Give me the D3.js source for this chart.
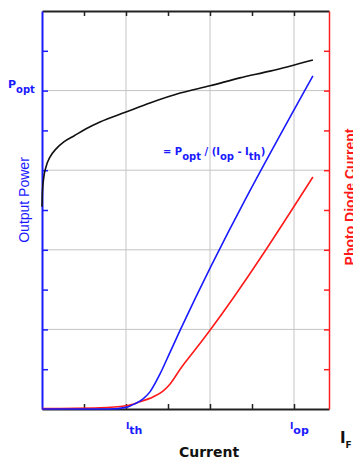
<!DOCTYPE html>
<html>
<head>
<meta charset="utf-8">
<script src="https://cdn.jsdelivr.net/npm/d3@7"></script>
<style>
  body { margin: 0; background: #fff; }
  svg text { font-family: "DejaVu Sans", Verdana, sans-serif; }
</style>
</head>
<body>
<div id="chart"></div>
<script>
// current axis in units of 42px grid steps, power axis 0..10
const gridX = [2, 4, 6];
const gridY = [2, 4, 6, 8];
const tickX = [1, 2, 3, 4, 5, 6];
const tickY = [1, 2, 3, 4, 5, 6, 7, 8, 9];

// output power (black), laser light vs current
const powerX = [0, 0.01, 0.04, 0.10, 0.19, 0.33, 0.52, 0.76, 1.05, 1.38, 2.0, 2.57, 3.29, 4.0, 4.71, 5.43, 6.45];
const powerY = [5.08, 5.45, 5.80, 6.10, 6.33, 6.53, 6.71, 6.86, 7.04, 7.21, 7.46, 7.69, 7.94, 8.12, 8.32, 8.49, 8.77];

// blue slope line
const slopeX = [0, 1.62, 2.0, 2.21, 2.4, 2.57, 2.81, 3.05, 3.29, 6.45];
const slopeY = [0, 0, 0.04, 0.13, 0.25, 0.43, 0.88, 1.43, 1.98, 8.37];

// photo diode current (red)
const diodeX = [0, 1.38, 2.0, 2.33, 2.64, 2.88, 3.05, 3.29, 3.64, 4.0, 6.45];
const diodeY = [0.01, 0.03, 0.08, 0.18, 0.30, 0.45, 0.63, 1.0, 1.48, 1.98, 5.83];

const width = 353, height = 461;
const m = { left: 42, right: 329, top: 11, bottom: 409 };

const x = d3.scaleLinear().domain([0, 287 / 42]).range([m.left, m.right]);
const y = d3.scaleLinear().domain([0, 10]).range([m.bottom, m.top]);

const svg = d3.select("#chart").append("svg")
  .attr("width", width).attr("height", height);

// grid
svg.append("g").selectAll("line").data(gridX).join("line")
  .attr("x1", d => x(d)).attr("x2", d => x(d))
  .attr("y1", m.top).attr("y2", m.bottom)
  .attr("stroke", "#c4c4c4").attr("stroke-width", 1);
svg.append("g").selectAll("line").data(gridY).join("line")
  .attr("x1", m.left).attr("x2", m.right)
  .attr("y1", d => y(d)).attr("y2", d => y(d))
  .attr("stroke", "#c4c4c4").attr("stroke-width", 1);

// axes
const topAxis = svg.append("g").attr("transform", `translate(0,${m.top})`)
  .call(d3.axisBottom(x).tickValues(tickX).tickSize(5).tickSizeOuter(0).tickFormat(""));
topAxis.select(".domain").attr("stroke", "#222").attr("stroke-width", 2);
topAxis.selectAll(".tick line").attr("stroke", "#222").attr("stroke-width", 1.5);

const bottomAxis = svg.append("g").attr("transform", `translate(0,${m.bottom})`)
  .call(d3.axisTop(x).tickValues(tickX).tickSize(5).tickSizeOuter(0).tickFormat(""));
bottomAxis.select(".domain").attr("stroke", "#222").attr("stroke-width", 2);
bottomAxis.selectAll(".tick line").attr("stroke", "#222").attr("stroke-width", 1.5);

const leftAxis = svg.append("g").attr("transform", `translate(${m.left},0)`)
  .call(d3.axisRight(y).tickValues(tickY).tickSize(6).tickSizeOuter(0).tickFormat(""));
leftAxis.select(".domain").attr("stroke", "#1a1aff").attr("stroke-width", 2);
leftAxis.selectAll(".tick line").attr("stroke", "#1a1aff").attr("stroke-width", 1.5);

const rightAxis = svg.append("g").attr("transform", `translate(${m.right},0)`)
  .call(d3.axisLeft(y).tickValues(tickY).tickSize(5).tickSizeOuter(0).tickFormat(""));
rightAxis.select(".domain").attr("stroke", "#ff2020").attr("stroke-width", 1.5);
rightAxis.selectAll(".tick line").attr("stroke", "#ff2020").attr("stroke-width", 1.5);

// curves
const line = d3.line().x(d => x(d[0])).y(d => y(d[1])).curve(d3.curveMonotoneX);
const series = [
  { xs: diodeX, ys: diodeY, color: "#ff1a1a" },
  { xs: slopeX, ys: slopeY, color: "#1a1aff" },
  { xs: powerX, ys: powerY, color: "#111" }
];
series.forEach(s => {
  svg.append("path")
    .datum(s.xs.map((v, i) => [v, s.ys[i]]))
    .attr("fill", "none")
    .attr("stroke", s.color)
    .attr("stroke-width", 1.6)
    .attr("d", line);
});

// labels
function subLabel(g, main, sub, px, py, size, subSize, color) {
  const t = g.append("text").attr("x", px).attr("y", py)
    .attr("fill", color).attr("font-weight", "bold").attr("font-size", size);
  t.append("tspan").text(main);
  t.append("tspan").attr("dy", 5).attr("font-size", subSize).text(sub);
  return t;
}

subLabel(svg, "P", "opt", 8, 88, 11, 10, "#1a1aff");
subLabel(svg, "I", "th", 126, 429, 9, 11, "#1a1aff");
subLabel(svg, "I", "op", 290, 429, 9, 11, "#1a1aff");
subLabel(svg, "I", "F", 340, 443, 15, 9, "#111");

const f = svg.append("text").attr("x", 163).attr("y", 155)
  .attr("fill", "#1a1aff").attr("font-weight", "bold").attr("font-size", 10);
f.append("tspan").text("= P");
f.append("tspan").attr("dy", 5).text("opt");
f.append("tspan").attr("dy", -5).text(" / (I");
f.append("tspan").attr("dy", 5).text("op");
f.append("tspan").attr("dy", -5).text(" - I");
f.append("tspan").attr("dy", 5).text("th");
f.append("tspan").attr("dy", -5).text(")");

svg.append("text")
  .attr("transform", "translate(29,200) rotate(-90)")
  .attr("text-anchor", "middle")
  .attr("fill", "#1a1aff").attr("font-size", 14)
  .style("font-family", "'Liberation Sans', Arial, sans-serif")
  .text("Output Power");

svg.append("text")
  .attr("transform", "translate(355,197) rotate(-90)")
  .attr("text-anchor", "middle")
  .attr("fill", "#ff1a1a").attr("font-size", 14).attr("font-weight", "bold")
  .style("font-family", "'Liberation Sans', Arial, sans-serif")
  .text("Photo Diode Current");

svg.append("text")
  .attr("x", 209).attr("y", 457)
  .attr("text-anchor", "middle")
  .attr("fill", "#111").attr("font-size", 14).attr("font-weight", "bold")
  .text("Current");
</script>
</body>
</html>
